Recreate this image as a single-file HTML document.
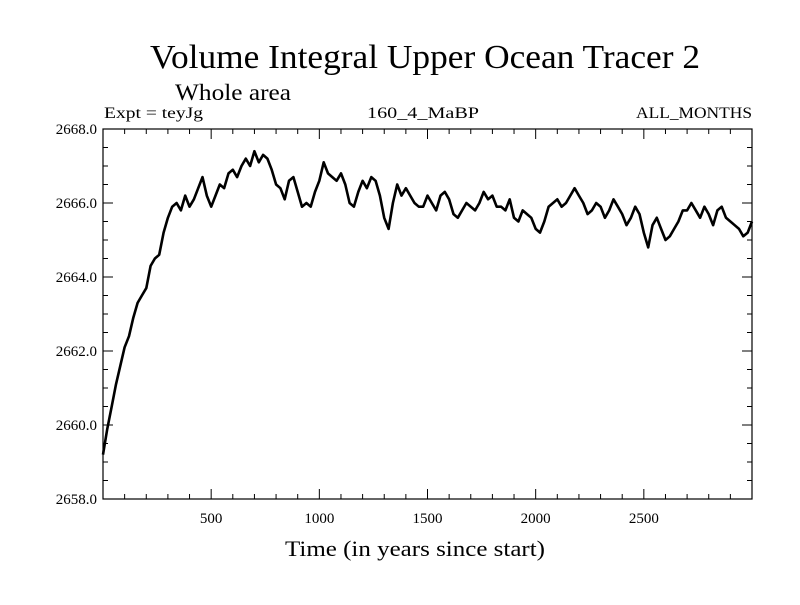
<!DOCTYPE html>
<html><head><meta charset="utf-8"><style>
body{margin:0;background:#fff;}
svg text{font-family:"Liberation Serif",serif;fill:#000;}
</style></head><body>
<svg id="chart" width="800" height="600" xmlns="http://www.w3.org/2000/svg">
<text x="150" y="68" font-size="34" textLength="550" lengthAdjust="spacingAndGlyphs">Volume Integral Upper Ocean Tracer 2</text>
<text x="175" y="100" font-size="23" textLength="116" lengthAdjust="spacingAndGlyphs">Whole area</text>
<text x="104" y="118" font-size="16" textLength="99" lengthAdjust="spacingAndGlyphs">Expt = teyJg</text>
<text x="367" y="118" font-size="16" textLength="112" lengthAdjust="spacingAndGlyphs">160_4_MaBP</text>
<text x="636" y="118" font-size="16" textLength="116" lengthAdjust="spacingAndGlyphs">ALL_MONTHS</text>
<text x="285" y="556" font-size="22" textLength="260" lengthAdjust="spacingAndGlyphs">Time (in years since start)</text>
<g id="axes"></g>
<rect x="103" y="129" width="649" height="370" fill="none" stroke="#000" stroke-width="1.2"/>
<path id="series" fill="none" stroke="#000" stroke-width="2.6" stroke-linejoin="round"/>
</svg>
<script>
const years = [];
for (let i = 0; i <= 150; i++) years.push(i * 20);
const values = [2659.2,2659.9,2660.5,2661.1,2661.6,2662.1,2662.4,2662.9,2663.3,2663.5,2663.7,2664.3,2664.5,2664.6,2665.2,2665.6,2665.9,2666.0,2665.8,2666.2,2665.9,2666.1,2666.4,2666.7,2666.2,2665.9,2666.2,2666.5,2666.4,2666.8,2666.9,2666.7,2667.0,2667.2,2667.0,2667.4,2667.1,2667.3,2667.2,2666.9,2666.5,2666.4,2666.1,2666.6,2666.7,2666.3,2665.9,2666.0,2665.9,2666.3,2666.6,2667.1,2666.8,2666.7,2666.6,2666.8,2666.5,2666.0,2665.9,2666.3,2666.6,2666.4,2666.7,2666.6,2666.2,2665.6,2665.3,2666.0,2666.5,2666.2,2666.4,2666.2,2666.0,2665.9,2665.9,2666.2,2666.0,2665.8,2666.2,2666.3,2666.1,2665.7,2665.6,2665.8,2666.0,2665.9,2665.8,2666.0,2666.3,2666.1,2666.2,2665.9,2665.9,2665.8,2666.1,2665.6,2665.5,2665.8,2665.7,2665.6,2665.3,2665.2,2665.5,2665.9,2666.0,2666.1,2665.9,2666.0,2666.2,2666.4,2666.2,2666.0,2665.7,2665.8,2666.0,2665.9,2665.6,2665.8,2666.1,2665.9,2665.7,2665.4,2665.6,2665.9,2665.7,2665.2,2664.8,2665.4,2665.6,2665.3,2665.0,2665.1,2665.3,2665.5,2665.8,2665.8,2666.0,2665.8,2665.6,2665.9,2665.7,2665.4,2665.8,2665.9,2665.6,2665.5,2665.4,2665.3,2665.1,2665.2,2665.5];
const xTickLabels = [500,1000,1500,2000,2500];
const yTickLabels = [2658,2660,2662,2664,2666,2668];
const X0=103,X1=752,Y0=499,Y1=129;
const xs = v => X0 + (v/3000)*(X1-X0);
const ys = v => Y0 - (v-2658)/10*(Y0-Y1);
const ns="http://www.w3.org/2000/svg";
const g=document.getElementById('axes');
function ln(x1,y1,x2,y2,name){const l=document.createElementNS(ns,'line');l.setAttribute('x1',x1);l.setAttribute('y1',y1);l.setAttribute('x2',x2);l.setAttribute('y2',y2);l.setAttribute('stroke','#000');l.setAttribute('stroke-width','1');


g.appendChild(l);}
for(let v=100;v<3000;v+=100){const x=xs(v);const big=v%500===0;const L=big?10:5;ln(x,Y0,x,Y0-L,'x-tick');ln(x,Y1,x,Y1+L,'x-tick-top');}
for(let v=2658.5;v<2668;v+=0.5){const y=ys(v);const big=Math.abs(v%2)<1e-9;const L=big?10:5;ln(X0,y,X0+L,y,'y-tick');ln(X1,y,X1-L,y,'y-tick-right');}
xTickLabels.forEach(v=>{const t=document.createElementNS(ns,'text');t.setAttribute('x',xs(v));t.setAttribute('y',Y0+24);t.setAttribute('font-size','15');t.setAttribute('text-anchor','middle');t.textContent=v;


g.appendChild(t);});
yTickLabels.forEach(v=>{const t=document.createElementNS(ns,'text');t.setAttribute('x',X0-6);t.setAttribute('y',ys(v)+5);t.setAttribute('font-size','15');t.setAttribute('text-anchor','end');t.textContent=v.toFixed(1);


g.appendChild(t);});
document.getElementById('series').setAttribute('d',values.map((v,i)=>(i?'L':'M')+xs(years[i]).toFixed(1)+','+ys(v).toFixed(1)).join(''));
</script>
</body></html>
